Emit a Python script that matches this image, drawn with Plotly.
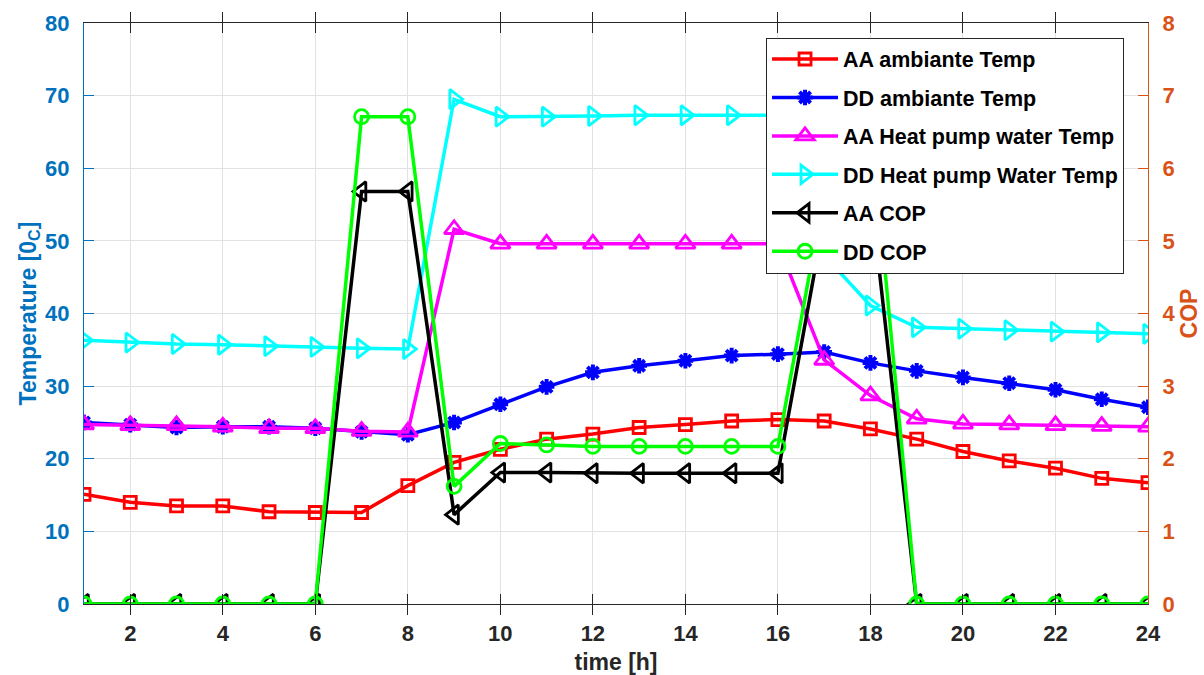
import plotly.graph_objects as go

# Hourly readings over one day
hours = list(range(1, 25))

aa_ambient = [15.1, 14.0, 13.5, 13.5, 12.7, 12.6, 12.6, 16.3, 19.5, 21.3, 22.7, 23.4,
              24.3, 24.7, 25.2, 25.4, 25.2, 24.1, 22.7, 21.0, 19.7, 18.7, 17.3, 16.7]
dd_ambient = [25.0, 24.7, 24.3, 24.4, 24.4, 24.2, 23.7, 23.3, 25.0, 27.5, 29.9, 31.9,
              32.8, 33.5, 34.2, 34.4, 34.7, 33.2, 32.1, 31.2, 30.4, 29.5, 28.2, 27.1]
aa_hp_water = [24.7, 24.6, 24.6, 24.4, 24.2, 24.2, 23.8, 23.7, 51.6, 49.6, 49.6, 49.6,
               49.6, 49.6, 49.6, 49.6, 33.6, 28.7, 25.5, 24.8, 24.7, 24.6, 24.5, 24.4]
dd_hp_water = [36.3, 36.0, 35.8, 35.7, 35.5, 35.4, 35.2, 35.1, 69.5, 67.1, 67.1, 67.2,
               67.3, 67.3, 67.3, 67.3, 48.0, 41.1, 38.1, 37.9, 37.7, 37.5, 37.4, 37.2]
aa_cop = [0, 0, 0, 0, 0, 0, 5.68, 5.68, 1.23, 1.81, 1.81, 1.80,
          1.80, 1.80, 1.80, 1.80, 5.3, 5.68, 0, 0, 0, 0, 0, 0]
dd_cop = [0, 0, 0, 0, 0, 0, 6.71, 6.71, 1.62, 2.21, 2.19, 2.17,
          2.17, 2.17, 2.17, 2.17, 5.65, 6.71, 0, 0, 0, 0, 0, 0]

x_ticks = list(range(2, 25, 2))

FONT = "Liberation Sans"
DARK = "#262626"
LEFT_C = "#0072BD"
RIGHT_C = "#D95319"
GRID = "#e2e2e2"

series = [
    ("AA ambiante Temp", aa_ambient, "#ff0000", "square-open", 12, "y"),
    ("DD ambiante Temp", dd_ambient, "#0000ff", "asterisk-open", 13, "y"),
    ("AA Heat pump water Temp", aa_hp_water, "#ff00ff", "triangle-up-open", 17, "y"),
    ("DD Heat pump Water Temp", dd_hp_water, "#00ffff", "triangle-right-open", 17, "y"),
    ("AA COP", aa_cop, "#000000", "triangle-left-open", 17, "y2"),
    ("DD COP", dd_cop, "#00ff00", "circle-open", 14, "y2"),
]

fig = go.Figure()
for i, (name, vals, color, symbol, size, axis) in enumerate(series):
    mlw = 4 if symbol.startswith("asterisk") else 2.8
    fig.add_trace(go.Scatter(
        x=hours, y=vals, name=name, yaxis=axis, mode="lines+markers",
        legendgroup=f"g{i}",
        line=dict(color=color, width=3.5),
        marker=dict(symbol=symbol, size=size, color=color,
                    line=dict(color=color, width=mlw)),
    ))

fig.update_layout(
    width=1204, height=675,
    margin=dict(l=84, r=56, t=23, b=71),
    paper_bgcolor="white", plot_bgcolor="white",
    font=dict(family=FONT, size=21, color=DARK),
    xaxis=dict(
        range=[1, 24], tickvals=x_ticks, ticks="inside", ticklen=10, tickwidth=1,
        tickcolor=DARK, showline=True, linecolor=DARK, linewidth=1, mirror="allticks",
        showgrid=True, gridcolor=GRID, gridwidth=1, zeroline=False, automargin=False,
        tickfont=dict(family=FONT, size=22, color=DARK, weight="bold"),
        ticklabelstandoff=10,
        title=dict(text="time [h]", standoff=10,
                   font=dict(family=FONT, size=23, color=DARK, weight="bold")),
    ),
    yaxis=dict(
        range=[0, 80], dtick=10, ticks="inside", ticklen=10, tickwidth=1,
        tickcolor=LEFT_C, showline=True, linecolor=LEFT_C, linewidth=1,
        showgrid=True, gridcolor=GRID, gridwidth=1, zeroline=False, automargin=False,
        tickfont=dict(family=FONT, size=22, color=LEFT_C, weight="bold"),
        ticklabelstandoff=9,
        title=dict(text="Temperature [0<sub>C</sub>]", standoff=2,
                   font=dict(family=FONT, size=23, color=LEFT_C, weight="bold")),
    ),
    yaxis2=dict(
        range=[0, 8], dtick=1, overlaying="y", side="right", anchor="x",
        ticks="inside", ticklen=10, tickwidth=1, tickcolor=RIGHT_C,
        showline=True, linecolor=RIGHT_C, linewidth=1, automargin=False,
        showgrid=False, zeroline=False,
        tickfont=dict(family=FONT, size=22, color=RIGHT_C, weight="bold"),
        ticklabelstandoff=9,
        title=dict(text="COP", standoff=6,
                   font=dict(family=FONT, size=23, color=RIGHT_C, weight="bold")),
    ),
    legend=dict(
        x=0.641, y=0.975, xanchor="left", yanchor="top",
        bgcolor="white", bordercolor=DARK, borderwidth=1,
        font=dict(family=FONT, size=21.5, color="#000000", weight="bold"),
        itemwidth=66, tracegroupgap=7.5,
    ),
    showlegend=True,
)

fig.write_html("out.html")
